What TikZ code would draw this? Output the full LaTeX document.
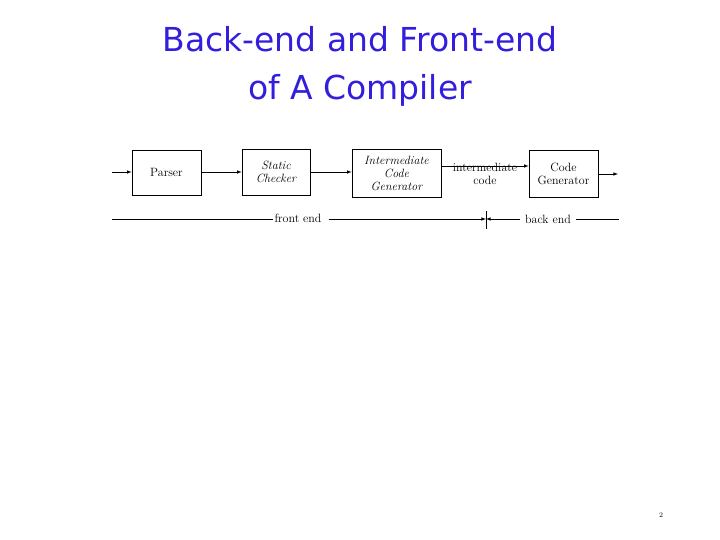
\documentclass[tikz,border=0pt]{standalone}
\usepackage{fontspec}
\newfontfamily\titlefont{DejaVu Sans}
\definecolor{ttl}{RGB}{50,30,220}
\begin{document}
\begin{tikzpicture}[x=1pt,y=-1pt,
  blk/.style={draw,line width=0.6pt,inner sep=0pt,font=\fontsize{12}{13}\selectfont,align=center},
  arr/.style={-latex,line width=0.6pt},
  ln/.style={line width=0.6pt},
  lbl/.style={font=\fontsize{12}{13}\selectfont,inner sep=1pt}]
\useasboundingbox (0,0) rectangle (720,540);
\node[font=\titlefont\fontsize{33}{48}\selectfont,text=ttl,align=center] (title) at (360,66) {Back-end and Front-end\\of A Compiler};
\node[blk,minimum width=69,minimum height=45] (p) at (166.5,172.5) {Parser};
\node[blk,minimum width=68,minimum height=46] (s) at (276,172) {\itshape Static\\\itshape Checker};
\node[blk,minimum width=89,minimum height=48] (i) at (396.5,173) {\itshape Intermediate\\\itshape Code\\\itshape Generator};
\node[blk,minimum width=69,minimum height=47] (c) at (563.5,173.5) {Code\\Generator};
\node[lbl,align=center] (ic) at (485,174) {intermediate\\code};
\coordinate (in) at (112,172);
\coordinate (out) at (618,174);
\draw[arr] (in) -- (p.west|-in);
\draw[arr] (p.east|-in) -- (s.west|-in);
\draw[arr] (s.east|-in) -- (i.west|-in);
\draw[arr] (i.east|-in) ++(0,-6) coordinate (a1) -- (c.west|-a1);
\draw[arr] (c.east|-out) -- (out);
\node[lbl] (fe) at (298,218) {front end};
\node[lbl] (be) at (548,219) {back end};
\coordinate (l0) at (112,219);
\coordinate (mid) at (486,219);
\coordinate (r0) at (619,219);
\coordinate (t1) at (486,211);
\coordinate (t2) at (486,229);
\draw[ln] (l0) -- (fe.west|-l0);
\draw[arr] (fe.east|-l0) ++(6,0) -- (mid);
\draw[arr] (be.west|-l0) ++(-4,0) -- (mid);
\draw[ln] (be.east|-l0) ++(4,0) -- (r0);
\draw[ln] (t1) -- (t2);
\node[font=\fontsize{7}{8}\selectfont] (pg) at (661,515) {2};
\end{tikzpicture}
\end{document}
